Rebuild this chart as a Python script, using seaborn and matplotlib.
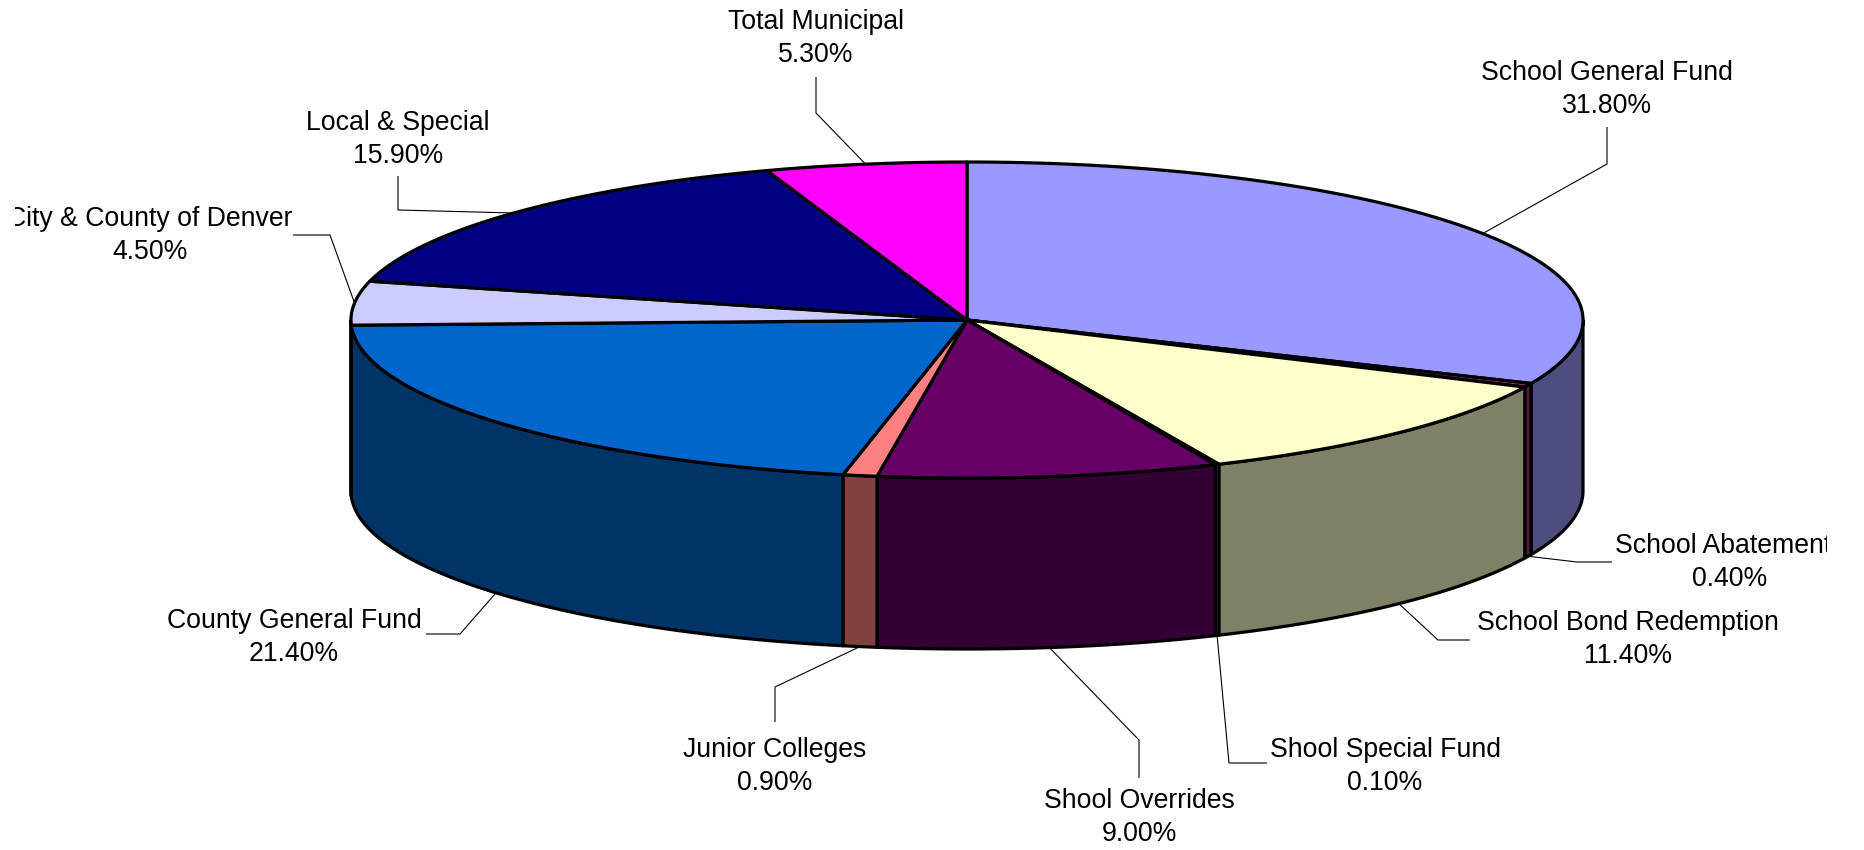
import numpy as np
import matplotlib
matplotlib.use("Agg")
import matplotlib.pyplot as plt
import seaborn as sns
from matplotlib.patches import Polygon
from matplotlib.transforms import Bbox, TransformedBbox

# ---- data ----
categories = ["School General Fund", "School Abatements", "School Bond Redemption",
              "Shool Special Fund", "Shool Overrides", "Junior Colleges",
              "County General Fund", "City & County of Denver", "Local & Special",
              "Total Municipal"]
values = [31.8, 0.4, 11.4, 0.1, 9.0, 0.9, 21.4, 4.5, 15.9, 5.3]
top_colors = ["#9999FF", "#993366", "#FFFFCC", "#CCFFFF", "#660066",
              "#FF8080", "#0066CC", "#CCCCFF", "#000080", "#FF00FF"]

# ---- layout (pixels) ----
label_x = [1607, 1730, 1628, 1385, 1139, 775, 294, 150, 398, 816]
label_y = [80, 553, 630, 757, 808, 757, 628, 226, 130, 29]
elbow = [(1607, 164), (1577, 562), (1438, 640), (1229, 763), (1139, 740),
         (775, 687), (460, 634), (330, 235), (398, 210), (816, 113)]
lead_end = [(1607, 127), (1612, 562), (1470, 640), (1267, 763), (1139, 778),
            (775, 722), (426, 634), (293, 235), (398, 176), (816, 77)]

W, H = 1864, 850
cx, cy, a, b, depth = 967, 320, 616, 158, 171

sns.set_theme(style="white")
plt.rcParams["font.family"] = ["Liberation Sans", "DejaVu Sans"]

fig = plt.figure(figsize=(W / 100, H / 100), dpi=100)
ax = fig.add_axes([0, 0, 1, 1])
ax.set_xlim(0, W)
ax.set_ylim(H, 0)
ax.axis("off")


def darker(hexc, f=0.5):
    r, g, bb = matplotlib.colors.to_rgb(hexc)
    return (r * f, g * f, bb * f)


def pt(th, dz=0.0):
    t = np.radians(th)
    return cx + a * np.cos(t), cy - b * np.sin(t) + dz


total = float(sum(values))
cum = np.concatenate([[0], np.cumsum(values)])
th_start = 90 - 360 * cum[:-1] / total
th_end = 90 - 360 * cum[1:] / total

lw = 2.3
# side walls (front half only: theta in [-180, 0])
for i in range(len(values)):
    lo = max(th_end[i], -180)
    hi = min(th_start[i], 0)
    if lo < hi:
        ths = np.linspace(hi, lo, 200)
        xs, ys = pt(ths)
        xb, yb = pt(ths[::-1], depth)
        poly = np.column_stack([np.concatenate([xs, xb]), np.concatenate([ys, yb])])
        ax.add_patch(Polygon(poly, closed=True, facecolor=darker(top_colors[i]),
                             edgecolor="black", lw=lw, joinstyle="round", zorder=2))

# top faces
for i in range(len(values)):
    n = max(int(abs(th_start[i] - th_end[i]) * 3), 4)
    ths = np.linspace(th_start[i], th_end[i], n)
    xs, ys = pt(ths)
    poly = np.column_stack([np.concatenate([[cx], xs]), np.concatenate([[cy], ys])])
    ax.add_patch(Polygon(poly, closed=True, facecolor=top_colors[i],
                         edgecolor="black", lw=lw, joinstyle="round", zorder=3))

# labels and leader lines
clip = TransformedBbox(Bbox.from_extents(15 / W, 0, 1827 / W, 1), fig.transFigure)
fs = 19.2
for i, name in enumerate(categories):
    thm = (th_start[i] + th_end[i]) / 2
    if np.sin(np.radians(thm)) < 0:
        ax_, ay_ = pt(thm, depth)
    else:
        ax_, ay_ = pt(thm)
    xs = [ax_, elbow[i][0], lead_end[i][0]]
    ys = [ay_, elbow[i][1], lead_end[i][1]]
    ax.plot(xs, ys, color="black", lw=0.8, zorder=1, solid_capstyle="butt")
    for txt, yy in [(name, label_y[i]), (f"{values[i]:.2f}%", label_y[i] + 33)]:
        t = ax.text(label_x[i], yy, txt, ha="center", va="baseline",
                    fontsize=fs, color="black", zorder=5)
        t.set_clip_box(clip)
        t.set_clip_on(True)

fig.savefig("out.png", dpi=100, facecolor="white")
